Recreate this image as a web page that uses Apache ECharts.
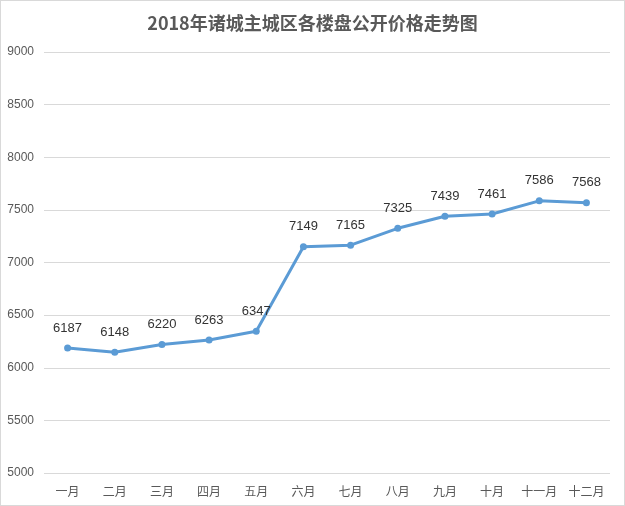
<!DOCTYPE html>
<html><head><meta charset="utf-8">
<script src="https://cdn.jsdelivr.net/npm/echarts@6/dist/echarts.min.js"></script>
<style>html,body{margin:0;padding:0;background:#fff}#c{width:625px;height:506px;border:1px solid #d9d9d9;box-sizing:border-box}</style>
</head><body><div id="c"></div>
<script>
const categories = ['一月','二月','三月','四月','五月','六月','七月','八月','九月','十月','十一月','十二月'];
const prices = [6187, 6148, 6220, 6263, 6347, 7149, 7165, 7325, 7439, 7461, 7586, 7568];
const yTicks = {min: 5000, max: 9000, interval: 500};
const chart = echarts.init(document.getElementById('c'));
chart.setOption({
  animation: false,
  title: {text: '2018年诸城主城区各楼盘公开价格走势图', left: 'center', top: 8,
    textStyle: {fontSize: 18, fontWeight: 'bold', color: '#595959', fontFamily: 'Noto Sans CJK SC'}},
  grid: {left: 43, right: 14, top: 51, bottom: 32, outerBoundsMode: 'none', containLabel: false},
  xAxis: {type: 'category', data: categories, boundaryGap: true,
    axisLine: {show: false}, axisTick: {show: false},
    axisLabel: {color: '#595959', fontSize: 12, fontFamily: 'Noto Sans CJK SC', margin: 12}},
  yAxis: {type: 'value', min: yTicks.min, max: yTicks.max, interval: yTicks.interval,
    axisLine: {show: false}, axisTick: {show: false},
    axisLabel: {color: '#595959', fontSize: 12, fontFamily: 'Liberation Sans', margin: 10,
      formatter: v => String(v)},
    splitLine: {lineStyle: {color: '#d9d9d9', width: 1}}},
  series: [{type: 'line', data: prices, smooth: false,
    lineStyle: {color: '#5b9bd5', width: 3},
    itemStyle: {color: '#5b9bd5'}, symbol: 'circle', symbolSize: 7,
    label: {show: true, position: 'top', distance: 10, color: '#333333', fontSize: 13,
      fontWeight: 'normal', fontFamily: 'Liberation Sans'}}]
});
</script></body></html>
